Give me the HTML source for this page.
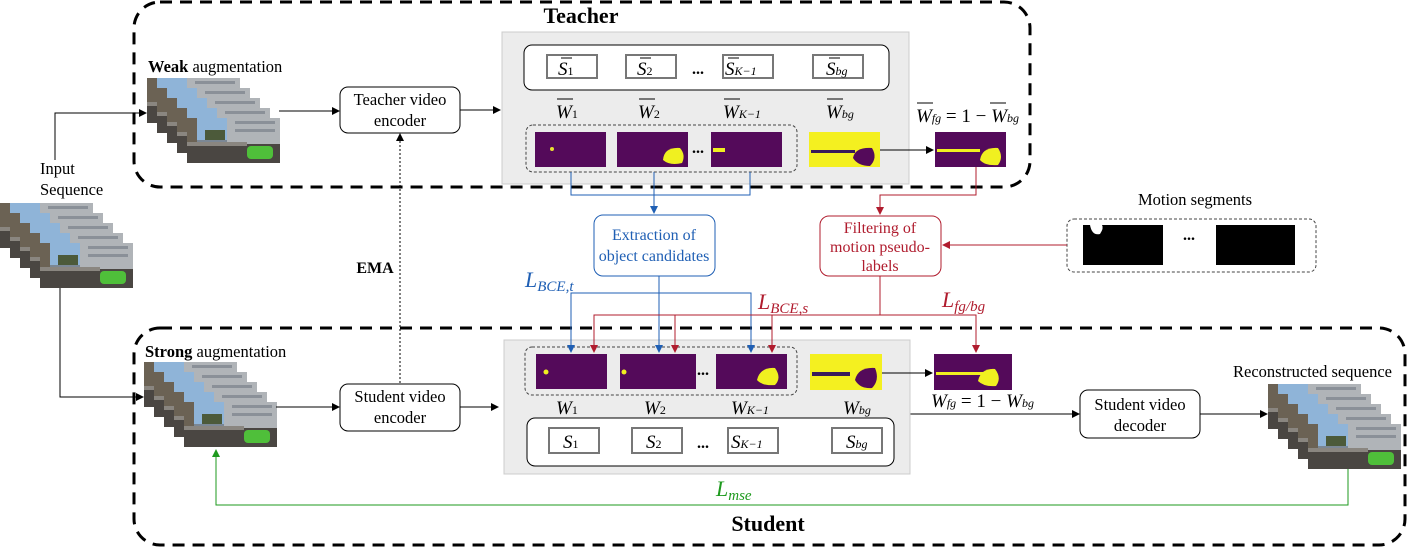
<!DOCTYPE html>
<html><head><meta charset="utf-8"><style>
body{margin:0;background:#fff}
svg{display:block}
text{font-family:"Liberation Serif",serif}
.m{font-style:italic}
</style></head><body>
<svg width="1407" height="547" viewBox="0 0 1407 547" xmlns="http://www.w3.org/2000/svg">
<defs>
<marker id="ak" markerWidth="8" markerHeight="8" refX="7" refY="4" orient="auto" markerUnits="userSpaceOnUse"><path d="M0,0 L8,4 L0,8 z" fill="#000"/></marker>
<marker id="ab" markerWidth="8" markerHeight="8" refX="7" refY="4" orient="auto" markerUnits="userSpaceOnUse"><path d="M0,0 L8,4 L0,8 z" fill="#1f5fb4"/></marker>
<marker id="ar" markerWidth="8" markerHeight="8" refX="7" refY="4" orient="auto" markerUnits="userSpaceOnUse"><path d="M0,0 L8,4 L0,8 z" fill="#b01c2e"/></marker>
<marker id="ag" markerWidth="8" markerHeight="8" refX="7" refY="4" orient="auto" markerUnits="userSpaceOnUse"><path d="M0,0 L8,4 L0,8 z" fill="#1e9a1e"/></marker>
<g id="fr">
<rect width="93" height="45" fill="#7b8794"/>
<rect width="45" height="22" fill="#8fb4d8"/>
<rect x="40" y="0" width="53" height="26" fill="#b0b4b8"/>
<rect x="48" y="3" width="40" height="3" fill="#8a9098"/>
<rect x="48" y="11" width="40" height="3" fill="#8a9098"/>
<rect x="0" y="0" width="10" height="30" fill="#6b6254"/>
<rect x="18" y="12" width="20" height="10" fill="#4c5a3a"/>
<rect x="0" y="26" width="93" height="19" fill="#4a4642"/>
<rect x="0" y="24" width="60" height="4" fill="#8a8680"/>
<rect x="60" y="28" width="26" height="13" rx="4" fill="#4fbf3a"/>
</g>
<g id="stk">
<use href="#fr" x="0" y="0"/><use href="#fr" x="10" y="10"/><use href="#fr" x="20" y="20"/><use href="#fr" x="30" y="30"/><use href="#fr" x="40" y="40"/>
</g>
<g id="pm"><rect width="71" height="35" fill="#540a5a"/></g>
</defs>

<rect x="134" y="2" width="896" height="185" rx="26" fill="none" stroke="#000" stroke-width="3" stroke-dasharray="12,8"/>
<rect x="134" y="328" width="1271" height="217" rx="26" fill="none" stroke="#000" stroke-width="3" stroke-dasharray="12,8"/>
<text x="581" y="23" font-size="22" font-weight="bold" text-anchor="middle">Teacher</text>
<text x="768" y="531" font-size="22" font-weight="bold" text-anchor="middle">Student</text>

<use href="#stk" x="147" y="78"/>
<use href="#stk" x="0" y="203"/>
<use href="#stk" x="144" y="362"/>
<use href="#stk" x="1268" y="384"/>
<text x="148" y="72" font-size="16.5"><tspan font-weight="bold">Weak</tspan> augmentation</text>
<text x="145" y="357" font-size="16.5"><tspan font-weight="bold">Strong</tspan> augmentation</text>
<text x="40" y="174" font-size="16.5">Input</text>
<text x="40" y="195" font-size="16.5">Sequence</text>
<text x="1233" y="377" font-size="16.5">Reconstructed sequence</text>

<rect x="340" y="87" width="120" height="46" rx="8" fill="#fff" stroke="#000"/>
<text x="400" y="105" font-size="16.5" text-anchor="middle">Teacher video</text>
<text x="400" y="126" font-size="16.5" text-anchor="middle">encoder</text>
<rect x="340" y="384" width="120" height="47" rx="8" fill="#fff" stroke="#000"/>
<text x="400" y="402" font-size="16.5" text-anchor="middle">Student video</text>
<text x="400" y="423" font-size="16.5" text-anchor="middle">encoder</text>
<rect x="1080" y="390" width="120" height="48" rx="8" fill="#fff" stroke="#000"/>
<text x="1140" y="410" font-size="16.5" text-anchor="middle">Student video</text>
<text x="1140" y="431" font-size="16.5" text-anchor="middle">decoder</text>

<path d="M60,288 V397 H143" fill="none" stroke="#000" marker-end="url(#ak)"/>
<path d="M55,160 V113 H146" fill="none" stroke="#000" marker-end="url(#ak)"/>
<path d="M279,111 H339" fill="none" stroke="#000" marker-end="url(#ak)"/>
<path d="M460,110 H500" fill="none" stroke="#000" marker-end="url(#ak)"/>
<path d="M276,407 H339" fill="none" stroke="#000" marker-end="url(#ak)"/>
<path d="M460,407 H498" fill="none" stroke="#000" marker-end="url(#ak)"/>
<path d="M400,383 V134" fill="none" stroke="#000" stroke-dasharray="2,2" marker-end="url(#ak)"/>
<text x="375" y="273" font-size="16" font-weight="bold" text-anchor="middle">EMA</text>
<path d="M910,414 H1079" fill="none" stroke="#000" marker-end="url(#ak)"/>
<path d="M1200,414 H1267" fill="none" stroke="#000" marker-end="url(#ak)"/>

<rect x="502" y="32" width="407" height="152" fill="#ececec" stroke="#ccc"/>
<rect x="524" y="45" width="365" height="45" rx="8" fill="#fff" stroke="#000"/>
<g fill="#fff" stroke="#777" stroke-width="2">
<rect x="547" y="55" width="50" height="23"/><rect x="626" y="55" width="50" height="23"/><rect x="723" y="55" width="50" height="23"/><rect x="813" y="55" width="50" height="23"/>
</g>
<g font-size="19" class="m">
<text x="558" y="75">S<tspan font-size="12" font-style="normal">1</tspan></text>
<text x="637" y="75">S<tspan font-size="12" font-style="normal">2</tspan></text>
<text x="725" y="75">S<tspan font-size="12">K−1</tspan></text>
<text x="826" y="75">S<tspan font-size="12">bg</tspan></text>
</g>
<g stroke="#000"><path d="M561,58 H572 M640,58 H651 M728,58 H739 M829,58 H840"/></g>
<text x="692" y="74" font-size="16" font-weight="bold">...</text>
<g font-size="19" class="m">
<text x="556" y="118">W<tspan font-size="12" font-style="normal">1</tspan></text>
<text x="638" y="118">W<tspan font-size="12" font-style="normal">2</tspan></text>
<text x="723" y="118">W<tspan font-size="12">K−1</tspan></text>
<text x="826" y="118">W<tspan font-size="12">bg</tspan></text>
<text x="916" y="122">W<tspan font-size="12">fg</tspan><tspan font-style="normal"> = 1 − </tspan>W<tspan font-size="12">bg</tspan></text>
</g>
<g stroke="#000"><path d="M557,99 H573 M639,99 H655 M724,99 H740 M827,99 H843 M917,103 H933 M990,103 H1006"/></g>
<rect x="526" y="125" width="271" height="47" rx="7" fill="none" stroke="#444" stroke-dasharray="3,2"/>
<use href="#pm" x="535" y="132"/><use href="#pm" x="617" y="132"/><use href="#pm" x="711" y="132"/>
<circle cx="552" cy="149" r="2" fill="#e8e030"/>
<path d="M663,160 Q664,147 680,148 Q686,155 682,163 Q670,166 663,160z" fill="#f0f020"/>
<rect x="713" y="148" width="12" height="4" fill="#f0f020"/>
<text x="692" y="153" font-size="16" font-weight="bold">...</text>
<rect x="809" y="132" width="71" height="35" fill="#f4f020"/>
<path d="M811,150 H855 V153 H811z" fill="#3a1a5a"/>
<path d="M853,158 Q855,147 872,148 Q878,158 870,166 Q858,166 853,158z" fill="#540a5a"/>
<rect x="935" y="132" width="71" height="35" fill="#540a5a"/>
<path d="M937,149 H980 V152 H937z" fill="#f0f020"/>
<path d="M980,160 Q982,147 998,148 Q1004,157 998,165 Q985,166 980,160z" fill="#f0f020"/>
<path d="M880,150 H933" fill="none" stroke="#000" marker-end="url(#ak)"/>

<rect x="504" y="340" width="406" height="134" fill="#ececec" stroke="#ccc"/>
<rect x="525" y="347" width="272" height="48" rx="7" fill="none" stroke="#444" stroke-dasharray="3,2"/>
<use href="#pm" x="536" y="354"/><rect x="620" y="354" width="76" height="35" fill="#540a5a"/><use href="#pm" x="716" y="354"/>
<circle cx="546" cy="372" r="2.5" fill="#f0f020"/><circle cx="624" cy="372" r="2.5" fill="#f0f020"/>
<path d="M757,380 Q760,367 775,368 Q782,378 775,385 Q762,386 757,380z" fill="#f0f020"/>
<text x="697" y="375" font-size="16" font-weight="bold">...</text>
<rect x="810" y="354" width="72" height="36" fill="#f4f020"/>
<path d="M812,372 H850 V376 H812z" fill="#3a1a5a"/>
<path d="M855,380 Q858,367 875,368 Q880,380 872,388 Q860,389 855,380z" fill="#540a5a"/>
<rect x="934" y="354" width="78" height="36" fill="#540a5a"/>
<path d="M936,372 H990 V375 H936z" fill="#f0f020"/>
<path d="M978,381 Q981,368 995,369 Q1002,378 996,386 Q984,387 978,381z" fill="#f0f020"/>
<path d="M882,373 H932" fill="none" stroke="#000" marker-end="url(#ak)"/>
<g font-size="19" class="m">
<text x="556" y="414">W<tspan font-size="12" font-style="normal">1</tspan></text>
<text x="644" y="414">W<tspan font-size="12" font-style="normal">2</tspan></text>
<text x="731" y="414">W<tspan font-size="12">K−1</tspan></text>
<text x="843" y="414">W<tspan font-size="12">bg</tspan></text>
<text x="931" y="407">W<tspan font-size="12">fg</tspan><tspan font-style="normal"> = 1 − </tspan>W<tspan font-size="12">bg</tspan></text>
</g>
<rect x="527" y="418" width="367" height="48" rx="8" fill="#fff" stroke="#000"/>
<g fill="#fff" stroke="#777" stroke-width="2">
<rect x="549" y="428" width="50" height="25"/><rect x="632" y="428" width="50" height="25"/><rect x="728" y="428" width="50" height="25"/><rect x="832" y="428" width="50" height="25"/>
</g>
<g font-size="19" class="m">
<text x="563" y="448">S<tspan font-size="12" font-style="normal">1</tspan></text>
<text x="646" y="448">S<tspan font-size="12" font-style="normal">2</tspan></text>
<text x="731" y="448">S<tspan font-size="12">K−1</tspan></text>
<text x="846" y="448">S<tspan font-size="12">bg</tspan></text>
</g>
<text x="697" y="448" font-size="16" font-weight="bold">...</text>

<rect x="594" y="215" width="121" height="61" rx="9" fill="#fff" stroke="#1f5fb4"/>
<text x="654" y="240" font-size="16" fill="#1f5fb4" text-anchor="middle">Extraction of</text>
<text x="654" y="261" font-size="16" fill="#1f5fb4" text-anchor="middle">object candidates</text>
<rect x="820" y="216" width="121" height="60" rx="9" fill="#fff" stroke="#b01c2e"/>
<text x="880" y="233" font-size="16" fill="#b01c2e" text-anchor="middle">Filtering of</text>
<text x="880" y="252" font-size="16" fill="#b01c2e" text-anchor="middle">motion pseudo-</text>
<text x="880" y="271" font-size="16" fill="#b01c2e" text-anchor="middle">labels</text>
<text x="1195" y="205" font-size="16.5" text-anchor="middle">Motion segments</text>
<rect x="1067" y="219" width="249" height="53" rx="7" fill="none" stroke="#444" stroke-dasharray="3,2"/>
<rect x="1083" y="225" width="80" height="40" fill="#000"/>
<path d="M1090,225 Q1092,236 1100,234 Q1104,228 1102,225z" fill="#fff"/>
<rect x="1216" y="225" width="79" height="40" fill="#000"/>
<text x="1183" y="240" font-size="16" font-weight="bold">...</text>

<g fill="none" stroke="#1f5fb4">
<path d="M571,172 V195 H750 V172"/>
<path d="M654,172 V213" marker-end="url(#ab)"/>
<path d="M659,276 V352" marker-end="url(#ab)"/>
<path d="M571,352 V293 H751 V352" marker-end="url(#ab)"/>
<path d="M571,300 V352" marker-end="url(#ab)"/>
</g>
<text x="525" y="287" font-size="22" fill="#1f5fb4" class="m">L<tspan font-size="15" dy="4">BCE,t</tspan></text>

<g fill="none" stroke="#b01c2e">
<path d="M976,167 V195 H880 V214" marker-end="url(#ar)"/>
<path d="M1067,245 H943" marker-end="url(#ar)"/>
<path d="M880,276 V315 H594 V352" marker-end="url(#ar)"/>
<path d="M675,315 V352" marker-end="url(#ar)"/>
<path d="M772,315 V352" marker-end="url(#ar)"/>
<path d="M880,315 H976 V352" marker-end="url(#ar)"/>
</g>
<text x="758" y="309" font-size="22" fill="#b01c2e" class="m">L<tspan font-size="15" dy="4">BCE,s</tspan></text>
<text x="942" y="307" font-size="22" fill="#b01c2e" class="m">L<tspan font-size="15" dy="4">fg/bg</tspan></text>

<path d="M1348,469 V505 H216 V450" fill="none" stroke="#1e9a1e" marker-end="url(#ag)"/>
<text x="716" y="496" font-size="22" fill="#1e9a1e" class="m">L<tspan font-size="15" dy="4">mse</tspan></text>
</svg>
</body></html>
